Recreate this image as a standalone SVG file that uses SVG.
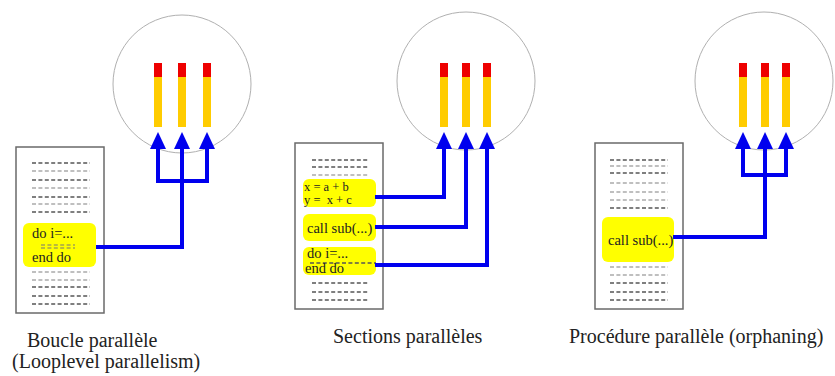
<svg xmlns="http://www.w3.org/2000/svg" width="835" height="376" viewBox="0 0 835 376">
<style>
.cpu{fill:#fff;stroke:#b0b0b0;stroke-width:1}
.red{fill:#ee0000}
.bar{fill:#ffcc00}
.doc{fill:#fff;stroke:#6a6a6a;stroke-width:1.5}
.hl{fill:#ffff00}
.d1{stroke:#555;stroke-width:1.6;stroke-dasharray:4 2.4}
.d2{stroke:#aaa;stroke-width:1.6;stroke-dasharray:4 2.4}
.code{font-family:"Liberation Serif","Times New Roman",serif;font-size:14.5px;fill:#222}
.lbl{font-family:"Liberation Serif","Times New Roman",serif;font-size:20px;fill:#222}
.conn{fill:none;stroke:#0000ee;stroke-width:4;stroke-linejoin:miter;marker-end:url(#ah)}
</style>
<defs>
<marker id="ah" viewBox="0 0 17 16" refX="0" refY="8" markerWidth="17" markerHeight="16" markerUnits="userSpaceOnUse" orient="auto">
<path d="M0,0 L17,8 L0,16 z" fill="#0000ee"/>
</marker>
</defs>

<!-- Panel 1 -->
<g id="cpu1">
<circle class="cpu" cx="182" cy="84" r="69"/>
<rect class="red" x="154" y="63" width="8" height="14"/><rect class="bar" x="154" y="77" width="8" height="50"/>
<rect class="red" x="178" y="63" width="8" height="14"/><rect class="bar" x="178" y="77" width="8" height="50"/>
<rect class="red" x="203" y="63" width="8" height="14"/><rect class="bar" x="203" y="77" width="8" height="50"/>
</g>
<g id="doc1">
<rect class="doc" x="16" y="147" width="88" height="166"/>
<line class="d1" x1="32" y1="163" x2="90" y2="163"/>
<line class="d2" x1="32" y1="171" x2="90" y2="171"/>
<line class="d1" x1="32" y1="180" x2="90" y2="180"/>
<line class="d2" x1="32" y1="188" x2="90" y2="188"/>
<line class="d1" x1="32" y1="197" x2="90" y2="197"/>
<line class="d2" x1="32" y1="204" x2="90" y2="204"/>
<line class="d1" x1="32" y1="212" x2="90" y2="212"/>
<rect class="hl" x="23" y="223" width="73" height="44" rx="6"/>
<text class="code" x="32" y="238">do i=...</text>
<line class="d2" x1="41" y1="245" x2="75" y2="245" style="stroke:#777;stroke-width:1.2"/>
<line class="d2" x1="41" y1="248" x2="75" y2="248" style="stroke:#777;stroke-width:1.2"/>
<text class="code" x="32" y="262">end do</text>
<line class="d2" x1="32" y1="272" x2="90" y2="272"/>
<line class="d2" x1="32" y1="280" x2="90" y2="280"/>
<line class="d1" x1="32" y1="287" x2="90" y2="287"/>
<line class="d1" x1="32" y1="296" x2="90" y2="296"/>
<line class="d1" x1="32" y1="304" x2="90" y2="304"/>
</g>
<g id="label1">
<text class="lbl" x="27" y="347">Boucle parallèle</text>
<text class="lbl" x="12" y="368">(Looplevel parallelism)</text>
</g>

<!-- Panel 2 -->
<g id="cpu2">
<circle class="cpu" cx="466" cy="81" r="69"/>
<rect class="red" x="440" y="63" width="8" height="14"/><rect class="bar" x="440" y="77" width="8" height="50"/>
<rect class="red" x="462" y="63" width="8" height="14"/><rect class="bar" x="462" y="77" width="8" height="50"/>
<rect class="red" x="483" y="63" width="8" height="14"/><rect class="bar" x="483" y="77" width="8" height="50"/>
</g>
<g id="doc2">
<rect class="doc" x="295" y="143" width="88" height="166"/>
<line class="d1" x1="312" y1="160" x2="369" y2="160"/>
<line class="d1" x1="312" y1="167" x2="369" y2="167"/>
<line class="d2" x1="312" y1="175" x2="369" y2="175"/>
<rect class="hl" x="303" y="179" width="73" height="28" rx="6"/>
<text class="code" x="304" y="191" style="font-size:12.5px" xml:space="preserve">x = a + b</text>
<text class="code" x="304" y="204" style="font-size:12.5px" xml:space="preserve">y =  x + c</text>
<rect class="hl" x="303" y="214" width="73" height="27" rx="6"/>
<text class="code" x="307" y="233">call sub(...)</text>
<rect class="hl" x="303" y="247" width="73" height="28" rx="6"/>
<text class="code" x="307" y="258">do i=...</text>
<line class="d1" x1="310" y1="263" x2="376" y2="263"/>
<text class="code" x="305" y="273">end do</text>
<line class="d1" x1="312" y1="283" x2="369" y2="283"/>
<line class="d1" x1="312" y1="292" x2="369" y2="292"/>
<line class="d1" x1="312" y1="300" x2="369" y2="300"/>
</g>
<g id="label2">
<text class="lbl" x="333" y="343">Sections parallèles</text>
</g>

<!-- Panel 3 -->
<g id="cpu3">
<circle class="cpu" cx="764" cy="81" r="69"/>
<rect class="red" x="739" y="63" width="8" height="14"/><rect class="bar" x="739" y="77" width="8" height="50"/>
<rect class="red" x="761" y="63" width="8" height="14"/><rect class="bar" x="761" y="77" width="8" height="50"/>
<rect class="red" x="782" y="63" width="8" height="14"/><rect class="bar" x="782" y="77" width="8" height="50"/>
</g>
<g id="doc3">
<rect class="doc" x="595" y="143" width="88" height="166"/>
<line class="d1" x1="610" y1="160" x2="668" y2="160"/>
<line class="d2" x1="610" y1="166" x2="668" y2="166"/>
<line class="d1" x1="610" y1="173" x2="668" y2="173"/>
<line class="d2" x1="610" y1="183" x2="668" y2="183"/>
<line class="d2" x1="610" y1="192" x2="668" y2="192"/>
<line class="d2" x1="610" y1="200" x2="668" y2="200"/>
<line class="d1" x1="610" y1="208" x2="668" y2="208"/>
<rect class="hl" x="602" y="217" width="72" height="45" rx="6"/>
<text class="code" x="608" y="245">call sub(...)</text>
<line class="d2" x1="610" y1="267" x2="668" y2="267"/>
<line class="d2" x1="610" y1="275" x2="668" y2="275"/>
<line class="d1" x1="610" y1="283" x2="668" y2="283"/>
<line class="d1" x1="610" y1="292" x2="668" y2="292"/>
<line class="d1" x1="610" y1="300" x2="668" y2="300"/>
</g>
<g id="label3">
<text class="lbl" x="569" y="343">Procédure parallèle (orphaning)</text>
</g>

<g id="connectors">
<path class="conn" d="M96,247 H182 V149"/>
<path class="conn" d="M182,181 H158 V149"/>
<path class="conn" d="M182,181 H207 V149"/>
<path class="conn" d="M375,197 H444 V149"/>
<path class="conn" d="M375,227 H466 V149"/>
<path class="conn" d="M375,265 H487 V149"/>
<path class="conn" d="M673,237 H765 V149"/>
<path class="conn" d="M765,175 H743 V149"/>
<path class="conn" d="M765,175 H786 V149"/>
</g>
</svg>
